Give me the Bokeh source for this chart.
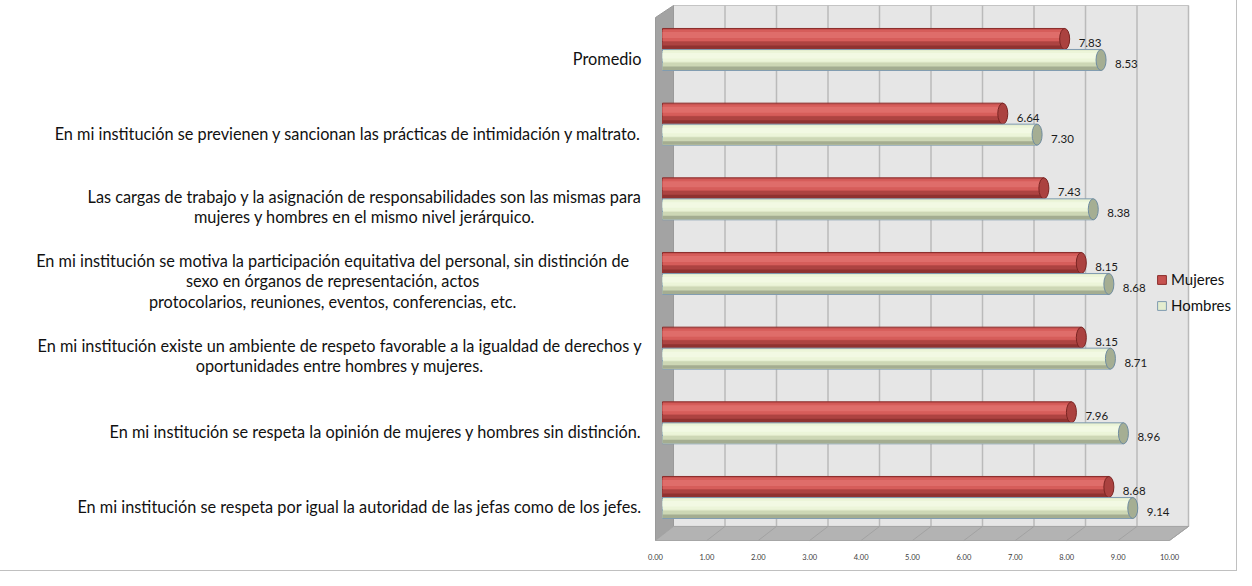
from bokeh.plotting import figure
from bokeh.models import Range1d, LinearAxis, FixedTicker, Legend, LegendItem
from bokeh.core.properties import value
from bokeh.embed import file_html
from bokeh.resources import INLINE

# ---------------- data ----------------
CATEGORIES = [
    "Promedio",
    "En mi institución se previenen y sancionan las prácticas de intimidación y maltrato.",
    "Las cargas de trabajo y la asignación de responsabilidades son las mismas para\nmujeres y hombres en el mismo nivel jerárquico.",
    "En mi institución se motiva la participación equitativa del personal, sin distinción de\nsexo en órganos de representación, actos\nprotocolarios, reuniones, eventos, conferencias, etc.",
    "En mi institución existe un ambiente de respeto favorable a la igualdad de derechos y\noportunidades entre hombres y mujeres.",
    "En mi institución se respeta la opinión de mujeres y hombres sin distinción.",
    "En mi institución se respeta por igual la autoridad de las jefas como de los jefes.",
]
MUJERES = [7.83, 6.64, 7.43, 8.15, 8.15, 7.96, 8.68]
HOMBRES = [8.53, 7.30, 8.38, 8.68, 8.71, 8.96, 9.14]
SERIES = ["Mujeres", "Hombres"]
TICKS = [0, 1, 2, 3, 4, 5, 6, 7, 8, 9, 10]
TICK_LABELS = ["0.00", "1.00", "2.00", "3.00", "4.00", "5.00", "6.00", "7.00", "8.00", "9.00", "10.00"]

FONT = value("Lato")
W, H = 1236, 570
XS = 52.0          # px per unit (bars)
X0 = 662.0         # figure px of value 0
YS = 74.67         # px per category
PX = 1.0 / YS      # one pixel in y units
XPX = 1.0 / XS

p = figure(width=W, height=H, output_backend="svg", toolbar_location=None,
           x_range=Range1d(-X0 / XS, (W - X0) / XS),
           y_range=Range1d(-0.603, 6.656),
           x_axis_location=None, y_axis_location=None,
           min_border_left=0, min_border_right=0, min_border_top=0, min_border_bottom=28)
p.xgrid.visible = False
p.ygrid.visible = False
p.outline_line_color = None
p.background_fill_color = "white"
p.border_fill_color = "white"
p.styles = {"outline": "1px solid #c0c0c0", "outline-offset": "0px"}

# front axis (floor edge) with its own range
FX0 = 655.0
FXS = 51.4
p.extra_x_ranges = {"front": Range1d(-FX0 / FXS, (W - FX0) / FXS)}
ax = LinearAxis(x_range_name="front", ticker=FixedTicker(ticks=TICKS),
                major_label_overrides={t: l for t, l in zip(TICKS, TICK_LABELS)})
ax.axis_line_color = None
ax.major_tick_line_color = None
ax.minor_tick_line_color = None
ax.major_label_text_font = "Lato"
ax.major_label_text_font_size = "7.5px"
ax.major_label_text_color = "#404040"
ax.major_label_standoff = 5
p.add_layout(ax, "below")

# ---------------- 3D walls ----------------
def xb(v):
    return 0.2115 + 0.9904 * v

def xf(v):
    return -0.1346 + 0.9885 * v

Y_TOP = 6.589
Y_TOP_F = 6.428
Y_BACK = -0.388
Y_FRONT = -0.576

# back wall
p.patch([xb(0), xb(10), xb(10), xb(0)], [Y_BACK, Y_BACK, Y_TOP, Y_TOP],
        fill_color="#e6e6e6", line_color="#c4c4c4", line_width=1)
# gridlines on back wall
p.multi_line([[xb(t), xb(t)] for t in TICKS[1:]], [[Y_BACK, Y_TOP] for _ in TICKS[1:]],
             line_color="#bababa", line_width=1.5)
# side wall
p.patch([xf(0), xb(0), xb(0), xf(0)], [Y_FRONT, Y_BACK, Y_TOP, Y_TOP_F],
        fill_color="#a3a3a3", line_color="#9a9a9a", line_width=1)
# floor
p.patch([xf(0), xf(10), xb(10), xb(0)], [Y_FRONT, Y_FRONT, Y_BACK, Y_BACK],
        fill_color="#b3b3b3", line_color="#a5a5a5", line_width=1)
p.multi_line([[xb(t), xf(t)] for t in TICKS[1:]], [[Y_BACK, Y_FRONT] for _ in TICKS[1:]],
             line_color="#a2a2a2", line_width=1)

# ---------------- bars ----------------
n = len(CATEGORIES)
ypos = [n - 1 - i for i in range(n)]
red_c = [y + 10.5 * PX for y in ypos]
grn_c = [y - 10.5 * PX for y in ypos]
CAP = 5 * XPX


def layer(centers, vals, a, b, color, line=None):
    cy = [c + (10.5 - (a + b) / 2.0) * PX for c in centers]
    return p.hbar(y=cy, left=0, right=[v - CAP for v in vals], height=(b - a) * PX,
                  fill_color=color, line_color=line, line_width=1)


red_base = layer(red_c, MUJERES, 0, 21, "#c65250", "#8b2d2b")
layer(red_c, MUJERES, 13, 20.5, "#ad4341")
layer(red_c, MUJERES, 17, 20.5, "#8f3230")
layer(red_c, MUJERES, 1.5, 12.5, "#d65d5a")
layer(red_c, MUJERES, 3.5, 9.5, "#df6d6a")
p.ellipse(x=[v - CAP for v in MUJERES], y=red_c, width=2 * CAP, height=21 * PX,
          fill_color="#ab4240", line_color="#7a2523", line_width=1)

grn_base = layer(grn_c, HOMBRES, 0, 21, "#e4edcf", "#7f9bb0")
layer(grn_c, HOMBRES, 13, 20.5, "#cdd7b5")
layer(grn_c, HOMBRES, 17, 20.5, "#a4ad91")
layer(grn_c, HOMBRES, 1.5, 12, "#ecf5d9")
layer(grn_c, HOMBRES, 3.5, 9, "#f2f9e3")
p.ellipse(x=[v - CAP for v in HOMBRES], y=grn_c, width=2 * CAP, height=21 * PX,
          fill_color="#a5ae93", line_color="#6f8ca0", line_width=1)

# data labels
LOFF = 9 * XPX
p.text(x=[v + LOFF for v in MUJERES], y=[c - 4 * PX for c in red_c],
       text=[f"{v:.2f}" for v in MUJERES], text_font=FONT, text_font_size="11.5px",
       text_color="#1a1a1a", text_align="left", text_baseline="middle")
p.text(x=[v + LOFF for v in HOMBRES], y=[c - 4 * PX for c in grn_c],
       text=[f"{v:.2f}" for v in HOMBRES], text_font=FONT, text_font_size="11.5px",
       text_color="#1a1a1a", text_align="left", text_baseline="middle")

# ---------------- category labels ----------------
RIGHT = (641 - X0) / XS
single_x, single_y, single_t = [], [], []
multi_x, multi_y, multi_t = [], [], []
for lab, y in zip(CATEGORIES, ypos):
    lines = lab.split("\n")
    ly = y - 9 * PX
    if len(lines) == 1:
        single_x.append(RIGHT); single_y.append(ly); single_t.append(lab)
    else:
        wmax = max(len(s) for s in lines) * 7.1
        multi_x.append(RIGHT - (wmax / 2.0) * XPX); multi_y.append(ly + 1.5 * PX); multi_t.append(lab)

p.text(x=single_x, y=single_y, text=single_t, text_font=FONT, text_font_size="16.3px",
       text_color="#111111", text_align="right", text_baseline="middle")
p.text(x=multi_x, y=multi_y, text=multi_t, text_font=FONT, text_font_size="16.3px",
       text_color="#111111", text_align="center", text_baseline="middle",
       text_line_height=1.06)

# ---------------- legend ----------------
legend = Legend(items=[LegendItem(label=SERIES[0], renderers=[red_base]),
                       LegendItem(label=SERIES[1], renderers=[grn_base])],
                location=(1156, 227), orientation="vertical",
                glyph_width=11, glyph_height=11, label_height=20, spacing=6,
                padding=0, margin=0, label_standoff=4,
                border_line_color=None, background_fill_alpha=0,
                label_text_font="Lato", label_text_font_size="15px",
                label_text_color="#111111")
p.add_layout(legend)

open("out.html", "w").write(file_html(p, INLINE))
